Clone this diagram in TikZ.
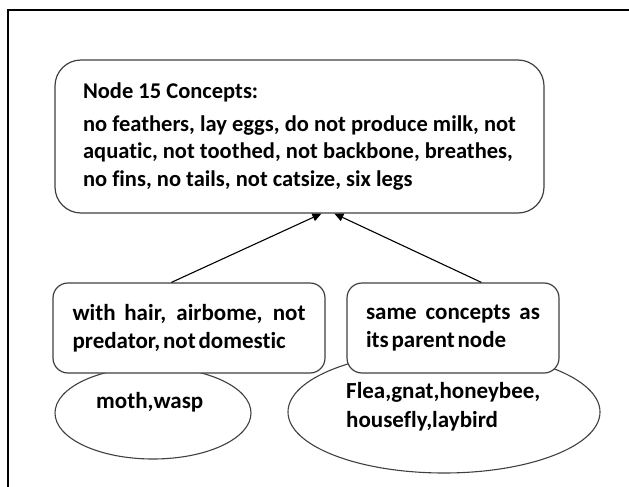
\documentclass[tikz,border=0pt]{standalone}
\usepackage{fontspec}
\setmainfont{Carlito}[Ligatures={NoCommon}]
\usetikzlibrary{arrows.meta,shapes.geometric}
\newcommand{\tightwords}{\spaceskip=0.12em plus 10em\relax}
\tikzset{
  conceptbox/.style={draw=black!75, line width=1.2pt, fill=white, rounded corners=#1,
    inner ysep=0pt, font=\bfseries},
  extentbox/.style={draw=black!75, line width=1.1pt, ellipse, inner sep=0pt},
  extenttext/.style={font=\fontsize{23}{29}\selectfont\bfseries, inner sep=0pt},
  link/.style={line width=1.1pt, -{Triangle[length=9pt,width=8pt]}},
  frameline/.style={line width=2pt}
}
\begin{document}
\begin{tikzpicture}[x=1pt,y=-1pt]
  \useasboundingbox (0,0) rectangle (629,487);
  % page frame (top and left rules)
  \draw[frameline] (8,487) -- (8,10) -- (629,10);

  % object extents (drawn first, partly covered by the boxes)
  \node[extentbox, minimum width=196pt, minimum height=92pt] (le) at (153,413) {};
  \node[extentbox, minimum width=312pt, minimum height=122pt] (re) at (444,412) {};

  % concept boxes
  \node[conceptbox=26pt, minimum width=489pt, minimum height=153pt,
        align=left, inner xsep=0pt,
        font=\fontsize{22.5}{27.5}\selectfont\bfseries]
        (top) at (299.5,136.5)
    {Node 15 Concepts:\\[5pt]
     no feathers, lay eggs, do not produce milk, not\\
     aquatic, not toothed, not backbone, breathes,\\
     no fins, no tails, not catsize, six legs};
  \node[conceptbox=15pt, minimum width=272pt, minimum height=90pt,
        text width=233pt, align=justify, inner xsep=19.5pt,
        font=\fontsize{23}{28}\selectfont\bfseries] (lbox) at (189,328)
    {\tightwords with hair, airbome, not\linebreak predator, not domestic};
  \node[conceptbox=15pt, minimum width=212pt, minimum height=90pt,
        text width=174pt, align=justify, inner xsep=19pt,
        font=\fontsize{23}{28}\selectfont\bfseries] (rbox) at (453,328)
    {\tightwords same concepts as\linebreak its parent node};

  % extent labels
  \node[extenttext, anchor=base west] (lt) at (96,408) {moth,wasp};
  \node[extenttext, anchor=base west, align=left] (rt) at (346,427)
    {Flea,gnat,honeybee,\\housefly,laybird};

  % links to the parent concept
  \draw[link] ([xshift=119pt]lbox.north west) -- ([xshift=267pt]top.south west);
  \draw[link] ([xshift=135pt]rbox.north west) -- ([xshift=280pt]top.south west);
\end{tikzpicture}
\end{document}
